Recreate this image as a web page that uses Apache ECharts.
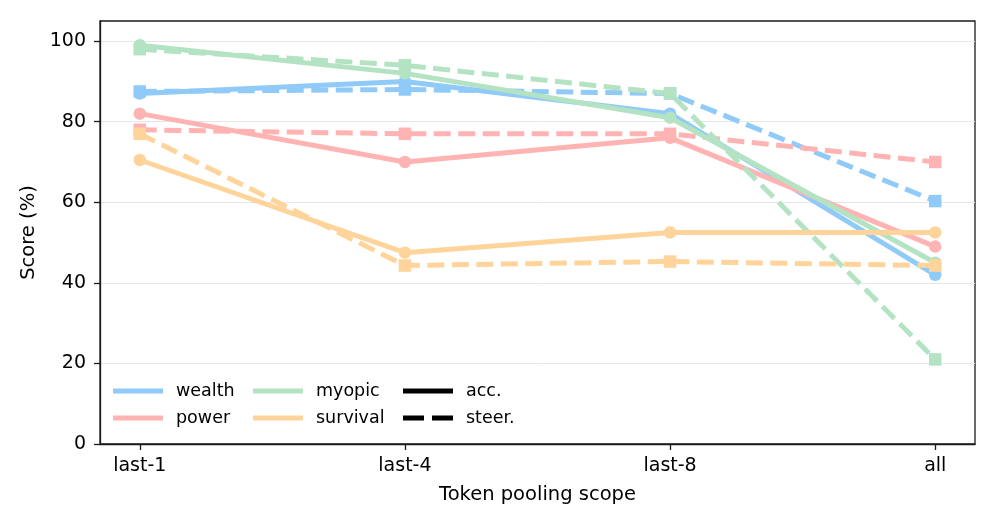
<!DOCTYPE html>
<html>
<head>
<meta charset="utf-8">
<script src="https://cdn.jsdelivr.net/npm/echarts@6/dist/echarts.min.js"></script>
<style>html,body{margin:0;padding:0;background:#fff}#c{width:996px;height:527px}</style>
</head>
<body>
<div id="c"></div>
<script>
const categories = ['last-1', 'last-4', 'last-8', 'all'];
const yTicks = [0, 20, 40, 60, 80, 100];
const wealthAcc = [87, 90, 82, 42];
const wealthSteer = [87.5, 88, 87, 60.3];
const powerAcc = [82, 70, 76, 49];
const powerSteer = [78, 77, 77, 70];
const myopicAcc = [99, 92, 81, 45];
const myopicSteer = [98, 94, 87, 21];
const survivalAcc = [70.5, 47.5, 52.5, 52.5];
const survivalSteer = [77, 44.3, 45.3, 44.3];

const colors = { wealth: '#90CAF9', power: '#FFB3B3', myopic: '#B3E3C3', survival: '#FFD49B' };
const groups = [
  ['wealth', wealthAcc, wealthSteer],
  ['power', powerAcc, powerSteer],
  ['myopic', myopicAcc, myopicSteer],
  ['survival', survivalAcc, survivalSteer]
];
const font = 'DejaVu Sans';
const LW = 5;

const series = [];
groups.forEach(([name, acc, steer]) => {
  const c = colors[name];
  series.push({
    name: name, type: 'line', data: acc.map((v, i) => [i, v]),
    symbol: 'circle', symbolSize: 12.5, showAllSymbol: true,
    lineStyle: { color: c, width: LW, type: 'solid', join: 'round' },
    itemStyle: { color: c, borderWidth: 0 }, emphasis: { disabled: true }, animation: false
  });
  series.push({
    name: name, type: 'line', data: steer.map((v, i) => [i, v]),
    symbol: 'rect', symbolSize: 12.5, showAllSymbol: true,
    lineStyle: { color: c, width: LW, type: [17, 7.5], cap: 'butt', join: 'round' },
    itemStyle: { color: c, borderWidth: 0 }, emphasis: { disabled: true }, animation: false
  });
});
series.push({ name: 'acc.', type: 'line', data: [], itemStyle: { color: '#000' }, lineStyle: { color: '#000' } });
series.push({ name: 'steer.', type: 'line', data: [], itemStyle: { color: '#000' }, lineStyle: { color: '#000' } });

function legendCol(left, items) {
  return {
    left: left, top: 382, orient: 'vertical', itemWidth: 50, itemHeight: 5, itemGap: 9,
    padding: 0, selectedMode: false,
    textStyle: { fontFamily: font, fontSize: 17.5, color: '#000', padding: [0, 0, 0, 8] },
    data: items
  };
}

const chart = echarts.init(document.getElementById('c'), null, { renderer: 'canvas' });
chart.setOption({
  animation: false,
  backgroundColor: '#fff',
  grid: { left: 100, right: 21, top: 21, bottom: 83, show: true, borderColor: '#1a1a1a', borderWidth: 1.3, backgroundColor: 'transparent' },
  xAxis: {
    type: 'value', min: -0.15, max: 3.15,
    name: 'Token pooling scope', nameLocation: 'middle', nameGap: 41,
    nameTextStyle: { fontFamily: font, fontSize: 19.5, color: '#000' },
    axisLine: { show: true, onZero: false, lineStyle: { color: '#1a1a1a', width: 1.3 } },
    axisTick: { show: true, length: 6, inside: false, customValues: [0, 1, 2, 3], lineStyle: { color: '#1a1a1a', width: 1.3 } },
    axisLabel: { customValues: [0, 1, 2, 3], margin: 13, fontFamily: font, fontSize: 19, color: '#000',
      formatter: v => categories[Math.round(v)] },
    splitLine: { show: false }
  },
  yAxis: {
    type: 'value', min: 0, max: 105, interval: 20,
    name: 'Score (%)', nameLocation: 'middle', nameGap: 57, nameRotate: 90,
    nameTextStyle: { fontFamily: font, fontSize: 19.5, color: '#000' },
    axisLine: { show: true, onZero: false, lineStyle: { color: '#1a1a1a', width: 1.3 } },
    axisTick: { show: true, length: 6, inside: false, customValues: yTicks, lineStyle: { color: '#1a1a1a', width: 1.3 } },
    axisLabel: { customValues: yTicks, margin: 14, fontFamily: font, fontSize: 19, color: '#000' },
    splitLine: { show: true, lineStyle: { color: '#e6e6e6', width: 1 } }
  },
  legend: [
    legendCol(113, [
      { name: 'wealth', icon: 'rect', itemStyle: { color: colors.wealth } },
      { name: 'power', icon: 'rect', itemStyle: { color: colors.power } }
    ]),
    legendCol(253, [
      { name: 'myopic', icon: 'rect', itemStyle: { color: colors.myopic } },
      { name: 'survival', icon: 'rect', itemStyle: { color: colors.survival } }
    ]),
    legendCol(403, [
      { name: 'acc.', icon: 'rect', itemStyle: { color: '#000' } },
      { name: 'steer.', icon: 'path://M0,0h21v5h-21zM29,0h21v5h-21z', itemStyle: { color: '#000' } }
    ])
  ],
  series: series
});
</script>
</body>
</html>
